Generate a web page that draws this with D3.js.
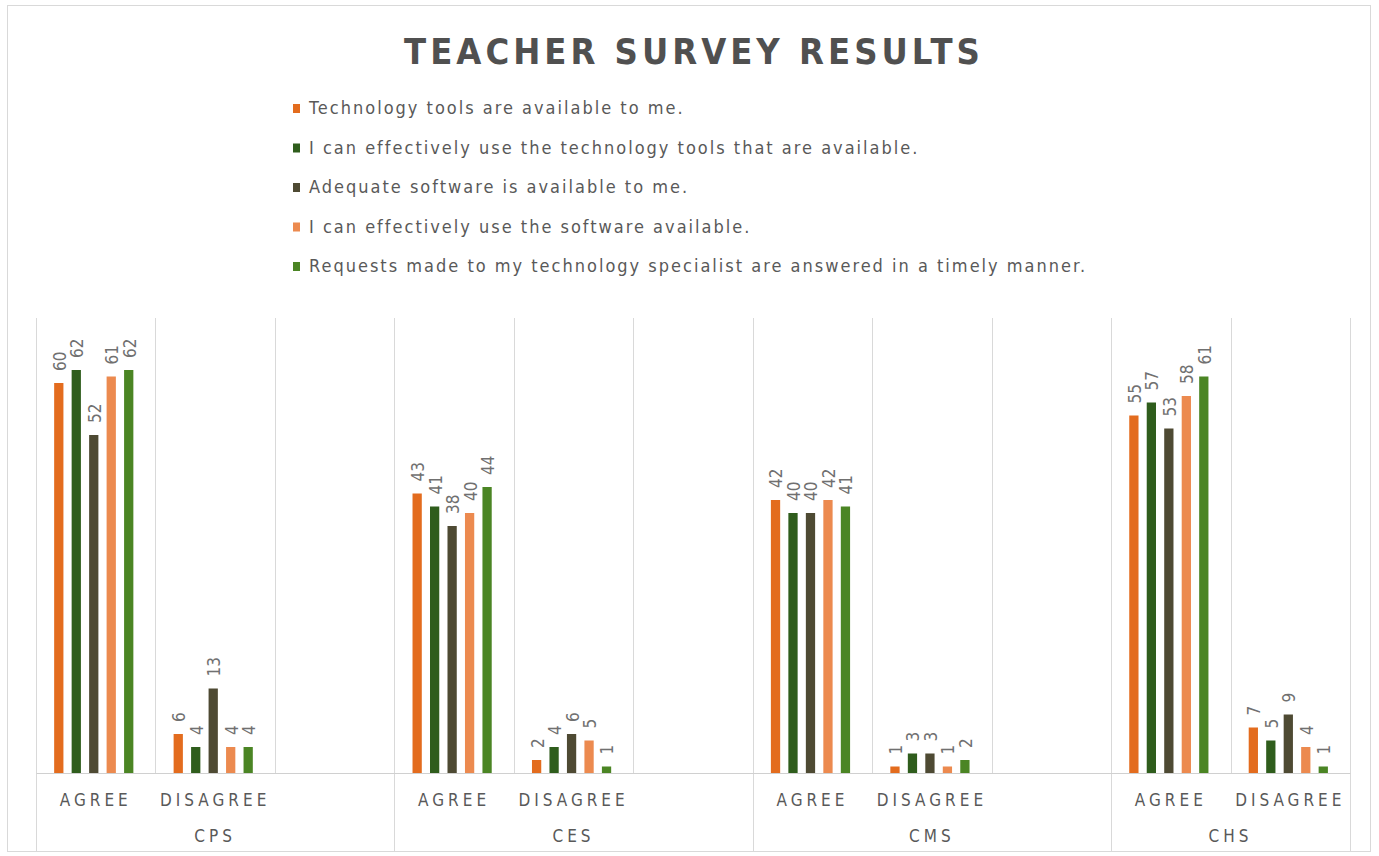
<!DOCTYPE html>
<html>
<head>
<meta charset="utf-8">
<script src="https://cdn.jsdelivr.net/npm/d3@7"></script>
<style>
  body { margin: 0; background: #fff; }
  svg text { font-family: "DejaVu Sans Condensed", "DejaVu Sans", sans-serif; }
</style>
</head>
<body>
<svg width="1379" height="856"></svg>
<script>
// survey data, one array per statement, in the order of the category slots
var groupNames = ["CPS", "CES", "CMS", "CHS"];
var responses = ["AGREE", "DISAGREE"];
var groupsWithBlank = ["CPS", "CES", "CMS"];   // excel left an empty slot after these

var seriesNames = [
    "Technology tools are available to me.",
    "I can effectively use the technology tools that are available.",
    "Adequate software is available to me.",
    "I can effectively use the software available.",
    "Requests made to my technology specialist are answered in a timely manner."
];
var seriesColors = ["#e36c1e", "#2f5d1c", "#4e4a33", "#ec8a4f", "#4b8524"];

//                CPS ag, dis, CES ag, dis, CMS ag, dis, CHS ag, dis
var toolsAvailable  = [60, 6, 43, 2, 42, 1, 55, 7];
var useTools        = [62, 4, 41, 4, 40, 3, 57, 5];
var softwareAvail   = [52, 13, 38, 6, 40, 3, 53, 9];
var useSoftware     = [61, 4, 40, 5, 42, 1, 58, 4];
var requestsTimely  = [62, 4, 44, 1, 41, 2, 61, 1];

var seriesValues = [toolsAvailable, useTools, softwareAvail, useSoftware, requestsTimely];
var yMax = 70;

function main(){
    var svg = d3.select("svg");

    // outer chart border
    svg.append("rect")
        .attr("x", 7.5).attr("y", 5.5)
        .attr("width", 1363).attr("height", 846)
        .attr("fill", "#fff")
        .attr("stroke", "#d9d9d9");

    // build slots (group|response) including the empty ones
    var slots = [];
    groupNames.forEach(function(g){
        responses.forEach(function(r){ slots.push(g + "|" + r); });
        if (groupsWithBlank.indexOf(g) >= 0) slots.push(g + "|");
    });

    var rows = [];
    var k = 0;
    groupNames.forEach(function(g){
        responses.forEach(function(r){
            rows.push({slot: g + "|" + r, values: seriesValues.map(function(s){ return s[k]; })});
            k++;
        });
    });

    var x0 = d3.scaleBand().domain(slots).range([36, 1350]).padding(0);
    var bw = x0.bandwidth();
    var x1 = d3.scaleBand().domain(d3.range(seriesNames.length))
        .range([bw * 0.152, bw * 0.815]).paddingInner(0.47).paddingOuter(0);
    var y = d3.scaleLinear().domain([0, yMax]).range([773, 318]);

    // vertical gridlines at every slot boundary
    var bounds = slots.map(function(s){ return x0(s); }).concat([x0.range()[1]]);
    svg.append("g").selectAll("line")
        .data(bounds)
        .enter().append("line")
        .attr("x1", function(d){ return Math.round(d) + 0.5; })
        .attr("x2", function(d){ return Math.round(d) + 0.5; })
        .attr("y1", y(yMax)).attr("y2", y(0))
        .attr("stroke", "#d9d9d9");

    // group dividers below the axis
    var groupBounds = groupNames.map(function(g){ return x0(g + "|" + responses[0]); }).concat([x0.range()[1]]);
    svg.append("g").selectAll("line")
        .data(groupBounds)
        .enter().append("line")
        .attr("x1", function(d){ return Math.round(d) + 0.5; })
        .attr("x2", function(d){ return Math.round(d) + 0.5; })
        .attr("y1", y(0)).attr("y2", 852)
        .attr("stroke", "#d9d9d9");

    // x axis with response labels
    var xAxis = svg.append("g")
        .attr("transform", "translate(0," + y(0) + ")")
        .call(d3.axisBottom(x0).tickSize(0).tickSizeOuter(0)
            .tickFormat(function(d){ return d.split("|")[1]; }));
    xAxis.select(".domain").attr("stroke", "#d0d0d0");
    xAxis.selectAll("text")
        .attr("y", 33)
        .attr("dy", 0)
        .attr("fill", "#595959")
        .style("font-size", "17px")
        .style("letter-spacing", "4px");

    // group names
    svg.append("g").selectAll("text")
        .data(groupNames)
        .enter().append("text")
        .attr("x", function(g, i){ return (groupBounds[i] + groupBounds[i + 1]) / 2; })
        .attr("y", 842)
        .attr("text-anchor", "middle")
        .attr("fill", "#595959")
        .style("font-size", "17px")
        .style("letter-spacing", "4px")
        .text(function(d){ return d; });

    // bars
    var cat = svg.append("g").selectAll("g")
        .data(rows)
        .enter().append("g")
        .attr("transform", function(d){ return "translate(" + x0(d.slot) + ",0)"; });

    cat.selectAll("rect")
        .data(function(d){ return d.values; })
        .enter().append("rect")
        .attr("x", function(v, i){ return x1(i); })
        .attr("width", x1.bandwidth())
        .attr("y", function(v){ return y(v); })
        .attr("height", function(v){ return y(0) - y(v); })
        .attr("fill", function(v, i){ return seriesColors[i]; });

    // rotated value labels
    cat.selectAll("text")
        .data(function(d){ return d.values; })
        .enter().append("text")
        .attr("transform", function(v, i){
            return "translate(" + (x1(i) + x1.bandwidth() / 2 + 1) + "," + (y(v) - 12) + ") rotate(-90)";
        })
        .attr("dy", "0.35em")
        .attr("fill", "#707070")
        .style("font-size", "17px")
        .text(function(v){ return v; });

    // title
    svg.append("text")
        .attr("x", 694)
        .attr("y", 64)
        .attr("text-anchor", "middle")
        .attr("fill", "#505050")
        .style("font-size", "36px")
        .style("font-weight", "bold")
        .style("letter-spacing", "4px")
        .text("TEACHER SURVEY RESULTS");

    // legend
    var legend = svg.append("g").selectAll("g")
        .data(seriesNames)
        .enter().append("g")
        .attr("transform", function(d, i){ return "translate(293," + (108 + i * 39.5) + ")"; });

    legend.append("rect")
        .attr("x", 0).attr("y", -4)
        .attr("width", 7).attr("height", 9)
        .attr("fill", function(d, i){ return seriesColors[i]; });

    legend.append("text")
        .attr("x", 16)
        .attr("dy", "0.35em")
        .attr("fill", "#595959")
        .style("font-size", "18px")
        .style("letter-spacing", "2px")
        .text(function(d){ return d; });
}
main();
</script>
</body>
</html>
